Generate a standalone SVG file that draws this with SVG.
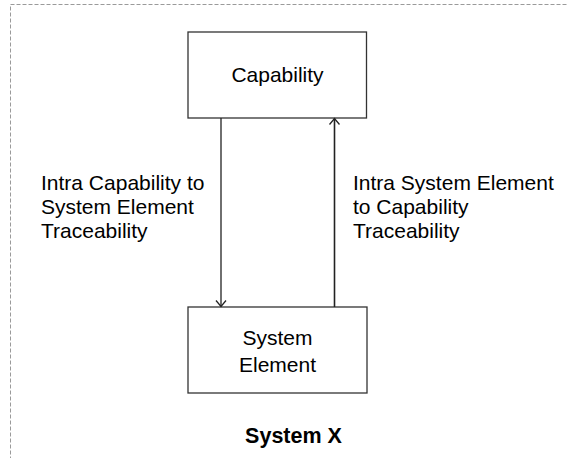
<svg xmlns="http://www.w3.org/2000/svg" width="568" height="458" viewBox="0 0 568 458">
  <style>
    .frame { fill: none; stroke: #9a9a9a; stroke-width: 1; stroke-dasharray: 4 2; }
    .box { fill: #ffffff; stroke: #333333; stroke-width: 1.3; }
    .txt { font-family: "Liberation Sans", Arial, sans-serif; font-size: 21px; fill: #000000; }
    .title { font-family: "Liberation Sans", Arial, sans-serif; font-size: 21.5px; font-weight: bold; fill: #000000; }
    .conn { fill: none; stroke: #222222; stroke-width: 1.3; }
  </style>
  <defs>
    <marker id="openArrow" markerUnits="userSpaceOnUse" markerWidth="12" markerHeight="14" refX="10" refY="7" orient="auto">
      <path d="M4,2 L10,7 L4,12" fill="none" stroke="#222222" stroke-width="1.3"/>
    </marker>
  </defs>

  <rect width="568" height="458" fill="#ffffff"/>

  <!-- dashed system boundary -->
  <g id="system-x">
    <rect class="frame" x="10.5" y="4.5" width="580" height="470"/>
    <text class="title" x="293.5" y="443" text-anchor="middle">System X</text>
  </g>

  <g id="capability">
    <rect class="box" x="188" y="32" width="178.5" height="86"/>
    <text class="txt" x="277.5" y="82" text-anchor="middle">Capability</text>
  </g>

  <g id="system-element">
    <rect class="box" x="188" y="307" width="179" height="86"/>
    <text class="txt" x="277.5" y="345" text-anchor="middle">System</text>
    <text class="txt" x="277.5" y="372" text-anchor="middle">Element</text>
  </g>

  <g id="connectors">
    <line class="conn" x1="221" y1="118" x2="221" y2="306.5" marker-end="url(#openArrow)"/>
    <line class="conn" x1="334.5" y1="307" x2="334.5" y2="118.5" marker-end="url(#openArrow)" style="stroke-width:1.6"/>
  </g>

  <g id="labels">
    <text class="txt" x="41" y="190">Intra Capability to</text>
    <text class="txt" x="41" y="214">System Element</text>
    <text class="txt" x="41" y="238">Traceability</text>
    <text class="txt" x="353" y="190">Intra System Element</text>
    <text class="txt" x="353" y="214">to Capability</text>
    <text class="txt" x="353" y="238">Traceability</text>
  </g>
</svg>
